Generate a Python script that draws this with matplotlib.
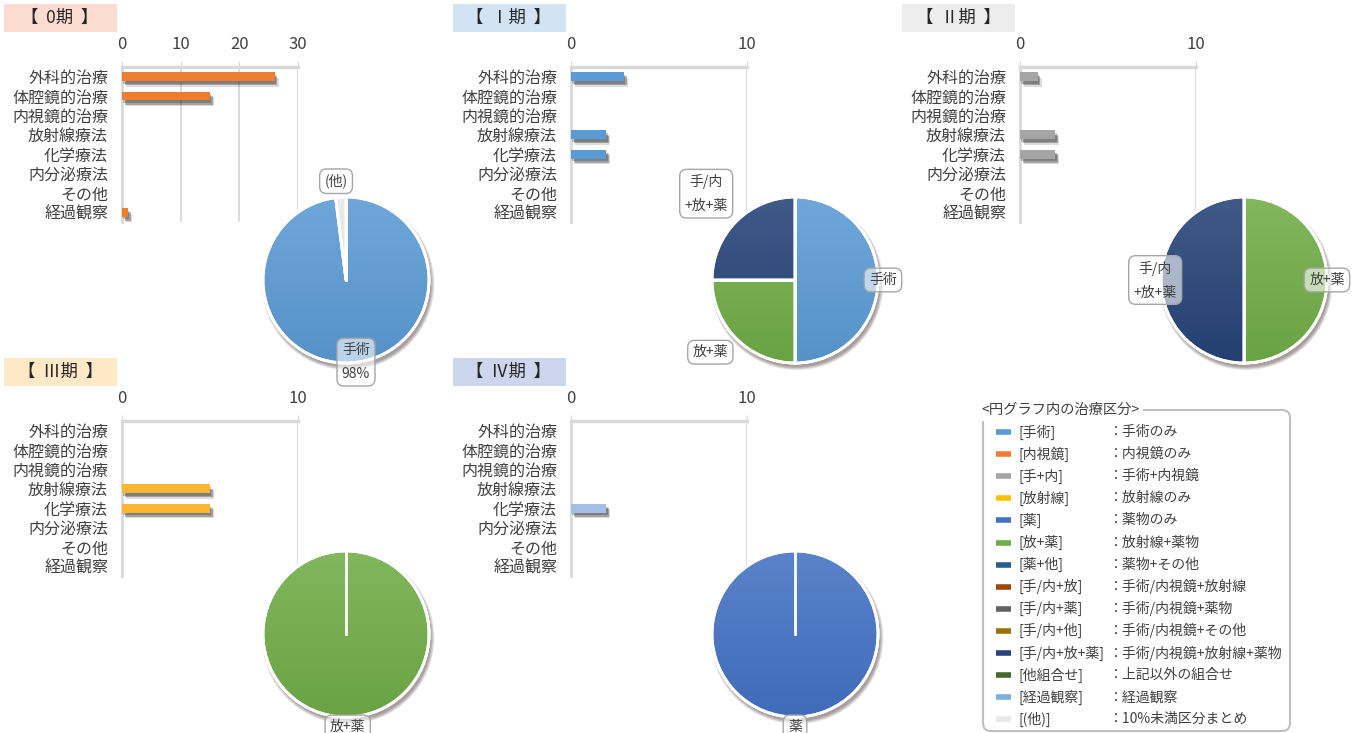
import numpy as np
import matplotlib
matplotlib.use('Agg')
import matplotlib.pyplot as plt
import matplotlib.patheffects as pe
from matplotlib.patches import Rectangle, FancyBboxPatch, Circle, Wedge
from matplotlib.colors import to_rgb

plt.rcParams['font.family'] = ['Noto Sans CJK JP', 'DejaVu Sans']

# --- data ---
categories = ['外科的治療', '体腔鏡的治療', '内視鏡的治療', '放射線療法',
              '化学療法', '内分泌療法', 'その他', '経過観察']
stages = ['【  0期  】', '【  Ⅰ期  】', '【  Ⅱ期  】', '【  Ⅲ期  】', '【  Ⅳ期  】']
counts_0 = [26, 15, 0, 0, 0, 0, 0, 1]
counts_1 = [3, 0, 0, 2, 2, 0, 0, 0]
counts_2 = [1, 0, 0, 2, 2, 0, 0, 0]
counts_3 = [0, 0, 0, 5, 5, 0, 0, 0]
counts_4 = [0, 0, 0, 0, 2, 0, 0, 0]
xmax = [30, 10, 10, 10, 10]

pie_keys_0 = ['手術', '(他)']
pie_vals_0 = [98, 2]
pie_keys_1 = ['手術', '放+薬', '手/内+放+薬']
pie_vals_1 = [50, 25, 25]
pie_keys_2 = ['放+薬', '手/内+放+薬']
pie_vals_2 = [50, 50]
pie_keys_3 = ['放+薬']
pie_vals_3 = [100]
pie_keys_4 = ['薬']
pie_vals_4 = [100]

legend_keys = ['手術', '内視鏡', '手+内', '放射線', '薬', '放+薬', '薬+他',
               '手/内+放', '手/内+薬', '手/内+他', '手/内+放+薬', '他組合せ',
               '経過観察', '(他)']
legend_desc = ['手術のみ', '内視鏡のみ', '手術+内視鏡', '放射線のみ', '薬物のみ',
               '放射線+薬物', '薬物+その他', '手術/内視鏡+放射線', '手術/内視鏡+薬物',
               '手術/内視鏡+その他', '手術/内視鏡+放射線+薬物', '上記以外の組合せ',
               '経過観察', '10%未満区分まとめ']
legend_colors = ['#5B9BD5', '#ED7D31', '#A5A5A5', '#FFC000', '#4472C4', '#70AD47',
                 '#255E91', '#9E480E', '#636363', '#997300', '#264478', '#43682B',
                 '#7CAFDD', '#E8E8E8']
key_color = dict(zip(legend_keys, legend_colors))

all_counts = [counts_0, counts_1, counts_2, counts_3, counts_4]
all_pie_keys = [pie_keys_0, pie_keys_1, pie_keys_2, pie_keys_3, pie_keys_4]
all_pie_vals = [pie_vals_0, pie_vals_1, pie_vals_2, pie_vals_3, pie_vals_4]

# --- styling / layout ---
bar_colors = ['#ED7D31', '#5B9BD5', '#A5A5A5', '#FBB730', '#A5C0E8']
title_bg = ['#FCDCD0', '#D2E3F3', '#EDEDED', '#FDE9C6', '#CCD6EC']
col_x = [0, 449, 898]
row_y = [0, 354]
panel_pos = [(0, 0), (1, 0), (2, 0), (0, 1), (1, 1)]
# pie label offsets (relative to pie radius) and text
pie_labels = [
    [('手術\n98%', 0.12, -0.99), ('(他)', -0.12, 1.19)],
    [('手術', 1.06, 0.0), ('放+薬', -1.02, -0.87), ('手/内\n+放+薬', -1.07, 1.04)],
    [('放+薬', 1.0, 0.0), ('手/内\n+放+薬', -1.07, 0.0)],
    [('放+薬', 0.02, -1.12)],
    [('薬', 0.0, -1.12)],
]
txt = '#404040'
grid_c = '#D9D9D9'

W, H = 1362, 733


def rect(x0, y0, x1, y1):
    return [x0 / W, 1 - y1 / H, (x1 - x0) / W, (y1 - y0) / H]


def shade(c, f):
    c = np.array(to_rgb(c))
    if f >= 0:
        return c + (1 - c) * f
    return c * (1 + f)


# soft-looking shadow for the bars
bar_shadow = [pe.SimplePatchShadow(offset=(1, -2), shadow_rgbFace='#1a1a1a', alpha=0.25),
              pe.SimplePatchShadow(offset=(2, -3), shadow_rgbFace='#1a1a1a', alpha=0.3),
              pe.SimplePatchShadow(offset=(3, -4), shadow_rgbFace='#1a1a1a', alpha=0.15),
              pe.Normal()]

fig = plt.figure(figsize=(W / 100, H / 100), dpi=100)

over = fig.add_axes([0, 0, 1, 1])
over.set_xlim(0, W)
over.set_ylim(H, 0)
over.axis('off')

for i in range(5):
    col, row = panel_pos[i]
    ox, oy = col_x[col], row_y[row]

    # title box
    over.add_patch(Rectangle((ox + 4, oy + 4), 113, 28, fc=title_bg[i], ec='none'))
    over.text(ox + 60, oy + 18, stages[i], ha='center', va='center',
              fontsize=12.5, color='#262626')

    # bar chart
    ax = fig.add_axes(rect(ox + 122, oy + 67, ox + 298, oy + 222))
    y = np.arange(len(categories))
    ax.barh(y, all_counts[i], height=0.45, color=bar_colors[i], zorder=3,
            path_effects=bar_shadow)
    ax.set_ylim(len(categories) - 0.5, -0.5)
    ax.set_xlim(0, xmax[i])
    ax.xaxis.tick_top()
    ax.set_xticks(np.arange(0, xmax[i] + 1, 10))
    ax.set_yticks(y, categories)
    ax.grid(axis='x', color=grid_c, lw=1.3)
    ax.set_axisbelow(True)
    for s in ['right', 'bottom']:
        ax.spines[s].set_visible(False)
    ax.spines['top'].set_color(grid_c)
    ax.spines['top'].set_linewidth(2.5)
    ax.spines['left'].set_color(grid_c)
    ax.spines['left'].set_linewidth(2)
    ax.tick_params(axis='x', length=4, color=grid_c, labelsize=12, labelcolor=txt, pad=6)
    ax.tick_params(axis='y', length=0, labelsize=11.5, labelcolor=txt, pad=10)
    ax.set_facecolor('none')

    # pie chart
    cx, cy, r = ox + 346, oy + 280, 83
    pa = fig.add_axes(rect(cx - 120, cy - 120, cx + 120, cy + 120))
    lim = 120 / r
    for k in range(6):
        pa.add_patch(Circle((0.025, -0.045), 1.0 + 0.008 * k, fc='#3b2424',
                            ec='none', alpha=0.09, zorder=0))
    cols = [key_color[k] for k in all_pie_keys[i]]
    wedges, _ = pa.pie(all_pie_vals[i], colors=cols, startangle=90, counterclock=False,
                       radius=1, wedgeprops=dict(edgecolor='white', linewidth=2))
    for w, c in zip(wedges, cols):
        grad = np.linspace(0, 1, 100)[:, None, None]
        top, bot = shade(c, 0.12), shade(c, -0.06)
        img = top * (1 - grad) + bot * grad
        im = pa.imshow(img, extent=(-1, 1, -1, 1), origin='upper', aspect='auto', zorder=2)
        im.set_clip_path(w)
        pa.add_patch(Wedge(w.center, w.r, w.theta1, w.theta2, fc='none',
                           ec='white', lw=2, zorder=3))
        a = np.deg2rad(w.theta1)
        pa.plot([0, np.cos(a)], [0, np.sin(a)], color='white', lw=2, zorder=3)
    pa.add_patch(Circle((0, 0), 1, fc='none', ec='white', lw=2, zorder=3))
    for lab, dx, dy in pie_labels[i]:
        pa.text(dx, dy, lab, ha='center', va='center', fontsize=10, color=txt,
                linespacing=1.9, zorder=5,
                bbox=dict(boxstyle='round,pad=0.35,rounding_size=0.5',
                          fc=(1, 1, 1, 0.6), ec='#A6A6A6', lw=1))
    pa.set_xlim(-lim, lim)
    pa.set_ylim(-lim, lim)
    pa.set_aspect('equal')
    pa.axis('off')

# legend panel
over.add_patch(FancyBboxPatch((983, 410), 307, 321,
                              boxstyle='round,pad=0,rounding_size=8',
                              fc='none', ec='#BFBFBF', lw=1.5))
over.text(981, 410, '<円グラフ内の治療区分>', ha='left', va='center', fontsize=10.3,
          color=txt, bbox=dict(boxstyle='square,pad=0.25', fc='white', ec='none'))
for j, (k, d, c) in enumerate(zip(legend_keys, legend_desc, legend_colors)):
    yy = 432 + j * 22.1
    over.plot([996, 1011], [yy, yy], color=c, lw=4, solid_capstyle='butt')
    over.text(1018, yy, '[' + k + ']', ha='left', va='center', fontsize=10, color=txt)
    over.text(1108, yy, '：' + d, ha='left', va='center', fontsize=10, color=txt)

fig.savefig('out.png', dpi=100)
